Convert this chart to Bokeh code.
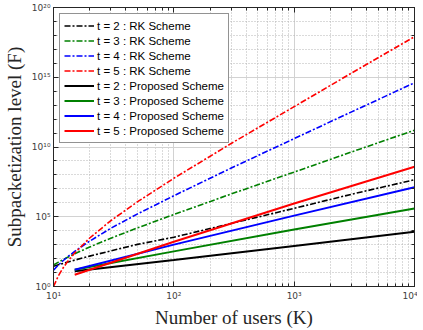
from bokeh.plotting import figure
from bokeh.models import (FixedTicker, LogAxis, Legend, LegendItem,
                          CustomJSTickFormatter)
from bokeh.embed import file_html
from bokeh.resources import INLINE

# ---- data ----
K_rk = [10, 11, 12, 13, 15, 20, 30, 50, 100, 300, 1000, 3000, 10000]
F_rk_t2 = [28, 36, 45, 55, 78, 150, 360, 1.05e3, 3.4e3, 3.3e4, 4.0e5, 4.1e6, 4.5e7]
F_rk_t3 = [35, 56, 84, 120, 220, 680, 2.9e3, 1.6e4, 1.45e5, 4.3e6, 1.6e8, 4.4e9, 1.6e11]
F_rk_t4 = [15, 35, 70, 126, 330, 1.8e3, 1.5e4, 1.6e5, 3.2e6, 3.1e8, 4.0e10, 3.3e12, 4.0e14]
F_rk_t5 = [1, 6, 21, 56, 250, 3.0e3, 5.3e4, 1.2e6, 5.7e7, 1.8e10, 7.8e12, 2.0e15, 8.0e17]

K_prop = [15, 100, 1000, 10000]
F_prop_t2 = [12.5, 78, 800, 8.3e3]
F_prop_t3 = [16, 330, 1.2e4, 3.9e5]
F_prop_t4 = [16, 1.0e3, 1.2e5, 1.3e7]
F_prop_t5 = [7, 1.6e3, 8.9e5, 3.8e8]

labels_rk = ["t = 2 : RK Scheme", "t = 3 : RK Scheme",
             "t = 4 : RK Scheme", "t = 5 : RK Scheme"]
labels_prop = ["t = 2 : Proposed Scheme", "t = 3 : Proposed Scheme",
               "t = 4 : Proposed Scheme", "t = 5 : Proposed Scheme"]
colors = ["#000000", "#008000", "#0000ff", "#ff0000"]

x_major = [10, 100, 1000, 10000]
x_minor = [m * 10 ** e for e in range(1, 4) for m in range(1, 10)] + [10000]
y_major = [1, 1e5, 1e10, 1e15, 1e20]
y_minor = [10.0 ** e for e in range(0, 21)]

# ---- figure ----
p = figure(x_axis_type="log", y_axis_type="log",
           x_range=(10, 1e4), y_range=(1, 1e20),
           frame_width=361, frame_height=279,
           min_border_left=43, min_border_right=3,
           min_border_top=7, min_border_bottom=40,
           output_backend="svg", toolbar_location=None)
p.background_fill_color = "white"
p.border_fill_color = "white"
p.outline_line_color = "#262626"
p.outline_line_width = 1

fmt_code = """
const sup = {'0':'\u2070','1':'\u00b9','2':'\u00b2','3':'\u00b3','4':'\u2074',
             '5':'\u2075','6':'\u2076','7':'\u2077','8':'\u2078','9':'\u2079','-':'\u207b'};
const e = Math.round(Math.log10(tick));
return '10' + String(e).split('').map(c => sup[c]).join('');
"""

xt = FixedTicker(ticks=x_major, minor_ticks=x_minor)
yt = FixedTicker(ticks=y_major, minor_ticks=y_minor)

def style_axis(ax, ticker, show_labels=True):
    ax.ticker = ticker
    ax.axis_line_color = "#262626"
    ax.major_tick_line_color = "#262626"
    ax.minor_tick_line_color = "#262626"
    ax.major_tick_in = 5
    ax.major_tick_out = 0
    ax.minor_tick_in = 3
    ax.minor_tick_out = 0
    if show_labels:
        ax.formatter = CustomJSTickFormatter(code=fmt_code)
        ax.major_label_text_font = "DejaVu Sans"
        ax.major_label_text_font_size = "9px"
        ax.major_label_text_color = "#404040"
        ax.axis_label_text_font = "Liberation Serif"
        ax.axis_label_text_font_style = "normal"
        ax.axis_label_text_font_size = "19px"
        ax.axis_label_text_color = "#262626"
    else:
        ax.formatter = CustomJSTickFormatter(code="return '';")
        ax.major_label_standoff = 0

style_axis(p.xaxis[0], xt)
style_axis(p.yaxis[0], yt)
p.xaxis.axis_label = "Number of users (K)"
p.yaxis.axis_label = "Subpacketization level (F)"
p.xaxis.major_label_standoff = 4
p.xaxis.axis_label_standoff = 3
p.yaxis.major_label_standoff = 3
p.yaxis.axis_label_standoff = 4

ax_r = LogAxis()
style_axis(ax_r, yt, show_labels=False)
p.add_layout(ax_r, "right")
ax_t = LogAxis()
style_axis(ax_t, xt, show_labels=False)
p.add_layout(ax_t, "above")

for g, t in ((p.xgrid, xt), (p.ygrid, yt)):
    g.ticker = t
    g.grid_line_color = "#d2d2d2"
    g.grid_line_width = 1
    g.minor_grid_line_color = "#b4b4b4"
    g.minor_grid_line_dash = "1 2"
    g.minor_grid_line_width = 1

# ---- lines ----
items = []
rk_series = [F_rk_t2, F_rk_t3, F_rk_t4, F_rk_t5]
for F, c, lab in zip(rk_series, colors, labels_rk):
    r = p.line(K_rk, F, line_color=c, line_width=1.6, line_dash="6 2 2 2")
    items.append(LegendItem(label=lab, renderers=[r]))
prop_series = [F_prop_t2, F_prop_t3, F_prop_t4, F_prop_t5]
for F, c, lab in zip(prop_series, colors, labels_prop):
    r = p.line(K_prop, F, line_color=c, line_width=2)
    items.append(LegendItem(label=lab, renderers=[r]))

legend = Legend(items=items, location="top_left")
legend.label_text_font = "Liberation Sans"
legend.label_text_font_size = "11.5px"
legend.label_text_color = "#000000"
legend.glyph_width = 30
legend.glyph_height = 15
legend.label_height = 15
legend.spacing = 0
legend.padding = 4
legend.margin = 6
legend.label_standoff = 3
legend.border_line_color = "#262626"
legend.border_line_width = 1
legend.background_fill_color = "white"
legend.background_fill_alpha = 1.0
p.add_layout(legend, "center")

open("out.html", "w").write(file_html(p, INLINE))
